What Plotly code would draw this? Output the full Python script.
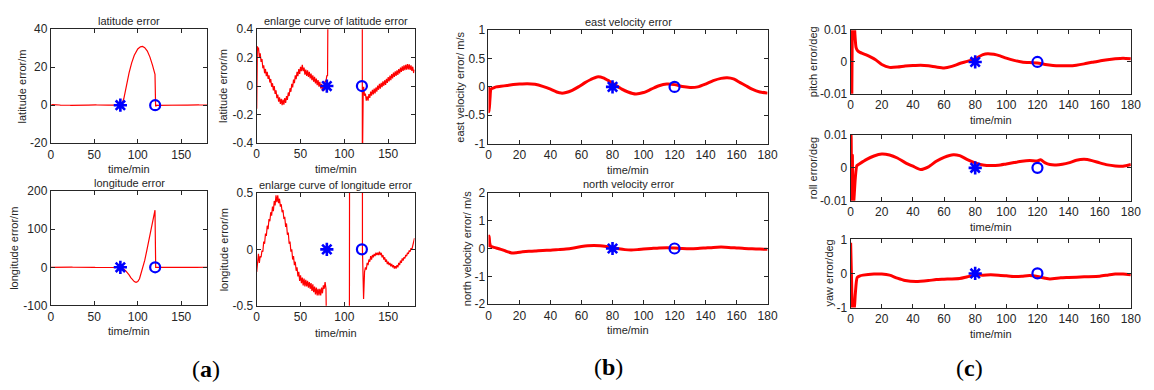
import plotly.graph_objects as go

W, H = 1154, 390

# ---------------- data ----------------
lat_t = [0, 0.8, 1.5, 2, 3, 4, 5, 6, 7, 8, 9, 10, 11, 12, 13, 14, 15, 16, 17, 18, 19, 20,
         21, 22, 23, 24, 25, 26, 27, 28, 29, 30, 31, 32, 33, 34, 35, 36, 37, 38, 39, 40,
         41, 42, 43, 44, 45, 46, 47, 48, 49, 50, 51, 52, 53, 54, 55, 56, 57, 58, 59, 60,
         61, 62, 63, 64, 65, 66, 67, 68, 69, 70, 71, 72, 73, 74, 75, 76, 77, 78, 79, 80,
         80.8, 81.3, 82, 84, 86, 88, 90, 93, 96, 100, 103, 105.5, 108, 111, 114, 117, 119.8,
         120.5, 121.5, 122, 123, 124, 125, 126, 127, 128, 129, 130, 131, 132, 133, 134, 135,
         136, 137, 138, 139, 140, 141, 142, 143, 144, 145, 146, 147, 148, 149, 150, 151, 152,
         153, 154, 155, 156, 157, 158, 159, 160, 161, 162, 163, 164, 165, 166, 167, 168, 169,
         170, 171, 172, 173, 174, 175, 176, 177, 178, 179, 180]
lat_err = [-0.16, 0.28, 0.25,
           0.27, 0.205, 0.23, 0.17, 0.19, 0.125, 0.145, 0.09, 0.12, 0.07, 0.1, 0.05, 0.075,
           0.025, 0.05, -0.005, 0.02, -0.03, 0.0, -0.055, -0.03, -0.085, -0.06, -0.11, -0.08,
           -0.125, -0.09, -0.135, -0.095, -0.13, -0.085, -0.118, -0.07, -0.098, -0.045, -0.07,
           -0.015, -0.04, 0.015, -0.01, 0.045, 0.02, 0.075, 0.048, 0.1, 0.07, 0.12, 0.085,
           0.135, 0.105, 0.15, 0.105, 0.13, 0.08, 0.115, 0.072, 0.11, 0.065, 0.1, 0.054, 0.088,
           0.042, 0.076, 0.03, 0.065, 0.018, 0.052, 0.006, 0.042, -0.004, 0.03, -0.016, 0.015,
           -0.035, -0.003, -0.03, 0.035, 0.03, 0.075,
           0.07, 0.6, 0.9, 3.5, 8.5, 12.8, 17.0, 22.3, 26.3, 29.6, 30.7, 30.9, 30.3, 28.5, 25.3,
           21.0, 16.2,
           -0.6, -0.02,
           -0.005, -0.068, -0.052, -0.103, -0.072, -0.103, -0.057, -0.083, -0.039, -0.068,
           -0.027, -0.058, -0.018, -0.052, -0.01, -0.04, 0.003, -0.026, 0.015, -0.018, 0.023,
           -0.008, 0.033, 0.002, 0.041, 0.008, 0.051, 0.022, 0.063, 0.032, 0.073, 0.042, 0.084,
           0.054, 0.095, 0.064, 0.104, 0.072, 0.11, 0.079, 0.12, 0.089, 0.13, 0.099, 0.138,
           0.106, 0.146, 0.112, 0.15, 0.116, 0.154, 0.118, 0.152, 0.114, 0.146, 0.106, 0.136,
           0.092, 0.115]

lon_t = [0, 1, 2, 3, 4, 5, 6, 7, 8, 9, 10, 11, 12, 13, 14, 15, 16, 17, 18, 19, 20,
         21, 22, 23, 24, 25, 26, 27, 28, 29, 30, 31, 32, 33, 34, 35, 36, 37, 38, 39, 40,
         41, 42, 43, 44, 45, 46, 47, 48, 49, 50, 51, 52, 53, 54, 55, 56, 57, 58, 59, 60,
         61, 62, 63, 64, 65, 66, 67, 68, 69, 70, 71, 72, 73, 74, 75, 76, 77, 78, 79, 79.5, 80,
         81, 82, 84, 86, 88, 90, 92, 94, 96, 98, 100, 102, 104, 106.2, 108, 110, 113, 116, 119.8,
         120.6, 121.9, 123, 124, 125, 126, 127, 128, 129, 130, 131, 132, 133, 134, 135, 136,
         137, 138, 139, 140, 141, 142, 143, 144, 145, 146, 147, 148, 149, 150, 151, 152, 153,
         154, 155, 156, 157, 158, 159, 160, 161, 162, 163, 164, 165, 166, 167, 168, 169, 170,
         171, 172, 173, 174, 175, 176, 177, 178, 179, 180]
lon_err = [-0.2, -0.1, -0.04, -0.12, -0.06, -0.07, -0.01, -0.02, 0.07, 0.05, 0.14, 0.12, 0.21,
           0.18, 0.27, 0.25, 0.33, 0.3, 0.38, 0.34, 0.43, 0.39, 0.48, 0.42, 0.48, 0.41, 0.45,
           0.38, 0.4, 0.33, 0.35, 0.27, 0.29, 0.2, 0.23, 0.13, 0.15, 0.05, 0.07, -0.02, 0.0,
           -0.09, -0.06, -0.14, -0.11, -0.19, -0.16, -0.24, -0.2, -0.28, -0.23, -0.3, -0.25,
           -0.32, -0.26, -0.33, -0.27, -0.33, -0.28, -0.34, -0.29, -0.35, -0.3, -0.37, -0.31,
           -0.38, -0.33, -0.4, -0.34, -0.41, -0.35, -0.41, -0.35, -0.41, -0.34, -0.39, -0.32,
           -0.35, -0.29, -0.35, -0.4, -0.55,
           -1.2, -2.0, -5.0, -9.0, -14.0, -20.0, -27.0, -33.0, -37.5, -39.5, -37.5, -30.0,
           -15.0, 0.0, 18.0, 40.0, 72.0, 105.0, 150.0,
           0.0, -0.44, -0.20,
           -0.16, -0.18, -0.12, -0.14, -0.09, -0.11, -0.06, -0.09, -0.05, -0.07, -0.04, -0.06,
           -0.03, -0.05, -0.03, -0.05, -0.02, -0.05, -0.03, -0.07, -0.05, -0.09, -0.07, -0.11,
           -0.09, -0.13, -0.11, -0.14, -0.12, -0.15, -0.13, -0.16, -0.14, -0.17, -0.15, -0.17,
           -0.14, -0.16, -0.12, -0.14, -0.1, -0.12, -0.08, -0.1, -0.07, -0.08, -0.05, -0.06,
           -0.03, -0.04, -0.01, -0.02, 0.01, 0.0, 0.04, 0.05, 0.1]

ve_t = [0, 0.4, 1.0, 1.6, 3, 5, 8, 12, 16, 20, 25, 30, 35, 40, 44, 47, 50, 54, 58, 62, 66, 70,
        74, 78, 82, 86, 90, 95, 100, 105, 110, 115, 120, 125, 130, 135, 140, 145, 150, 154,
        158, 162, 166, 170, 175, 180]
ve_err = [0.0, -0.44, -0.2, -0.04, -0.02, 0.0, 0.01, 0.025, 0.04, 0.05, 0.057, 0.045, 0.01,
          -0.04, -0.09, -0.11, -0.1, -0.06, 0.0, 0.07, 0.13, 0.175, 0.16, 0.1, 0.03, -0.04,
          -0.09, -0.125, -0.1, -0.04, 0.02, 0.05, 0.04, 0.005, -0.01, 0.0, 0.05, 0.11, 0.15,
          0.16, 0.14, 0.08, 0.02, -0.04, -0.09, -0.11]

vn_t = [0, 0.4, 0.8, 1.5, 3, 5, 8, 11, 15, 18, 22, 26, 30, 35, 40, 45, 50, 55, 60, 64, 68, 72,
        76, 80, 84, 88, 92, 96, 100, 105, 110, 115, 120, 125, 130, 135, 140, 145, 150, 155,
        160, 165, 170, 175, 180]
vn_err = [0.05, 0.45, 0.2, 0.08, 0.05, 0.02, -0.03, -0.09, -0.16, -0.15, -0.12, -0.1, -0.09,
          -0.07, -0.06, -0.04, -0.02, 0.02, 0.07, 0.1, 0.11, 0.1, 0.07, 0.03, -0.01, -0.04,
          -0.05, -0.04, -0.02, 0.0, 0.02, 0.03, 0.02, 0.0, -0.01, 0.0, 0.02, 0.04, 0.05, 0.04,
          0.02, 0.0, -0.01, -0.02, -0.03]

pitch_t = [0, 0.3, 0.7, 1.2, 1.7, 2.2, 2.7, 3.5, 4.5, 6, 8, 10, 13, 16, 20, 25, 30, 35, 40, 45,
           50, 55, 60, 65, 70, 75, 80, 85, 88, 92, 96, 100, 105, 110, 115, 120, 125, 130, 135,
           140, 145, 150, 155, 160, 165, 170, 175, 180]
pitch_err = [-0.012, 0.010, -0.012, 0.010, 0.008, 0.014, 0.009, 0.0045, 0.0035, 0.0030,
             0.0026, 0.0022, 0.0015, 0.0007, -0.0008, -0.0017, -0.0016, -0.0013, -0.0011,
             -0.0010, -0.0012, -0.0016, -0.0019, -0.0014, -0.0005, 0.0002, 0.0010, 0.0023,
             0.0026, 0.0024, 0.0019, 0.0012, 0.0005, 0.0000, -0.0002, -0.0003, -0.0008,
             -0.0011, -0.0012, -0.0012, -0.0010, -0.0006, -0.0001, 0.0003, 0.0007, 0.0010,
             0.0012, 0.0010]

roll_t = [0, 0.3, 0.7, 1.1, 1.5, 2.2, 3, 4, 5, 10, 15, 20, 25, 30, 35, 40, 45, 50, 55, 60, 66,
          70, 75, 80, 85, 90, 95, 100, 105, 110, 115, 120, 122, 125, 128, 132, 136, 140, 145,
          150, 155, 160, 165, 170, 175, 180]
roll_err = [0.0, 0.010, -0.010, 0.004, -0.013, -0.009, -0.003, 0.0007, 0.0010, 0.0025, 0.0036,
            0.0042, 0.0039, 0.0030, 0.0016, 0.0005, -0.0005, 0.0003, 0.0020, 0.0032, 0.0040,
            0.0037, 0.0025, 0.0015, 0.0009, 0.0007, 0.0008, 0.0012, 0.0016, 0.0020, 0.0022,
            0.0021, 0.0025, 0.0015, 0.0010, 0.0009, 0.0011, 0.0015, 0.0023, 0.0026, 0.0022,
            0.0015, 0.0009, 0.0006, 0.0005, 0.0010]

yaw_t = [0, 0.6, 1.2, 2.1, 3, 4.2, 6, 8, 15, 20, 25, 30, 35, 42, 50, 55, 60, 70, 75, 80, 85,
         90, 95, 100, 105, 110, 115, 120, 125, 128, 135, 140, 150, 160, 165, 170, 175, 180]
yaw_err = [0.9, -0.2, -1.04, -1.14, -0.6, -0.12, -0.07, -0.05, -0.02, -0.02, -0.05, -0.14,
           -0.21, -0.24, -0.21, -0.18, -0.17, -0.15, -0.1, -0.05, -0.05, -0.04, -0.05, -0.07,
           -0.09, -0.08, -0.06, -0.09, -0.14, -0.16, -0.13, -0.12, -0.1, -0.08, -0.05, -0.02,
           -0.02, -0.04]

mark_t = [80, 120]
mark_v = [0, 0]

x_ticks_a = [0, 50, 100, 150]
x_ticks_bc = [0, 20, 40, 60, 80, 100, 120, 140, 160, 180]

# ---------------- figure ----------------
RED = "#ff0000"
BLUE = "#0000ff"
TXT = "#262626"
FONT = "Liberation Sans, Arial, sans-serif"

panels = [
    (lat_t, lat_err, 48.3, 206.7, 23, 141.3, [-20, 40], [-20, 0, 20, 40],
     ["-20", "0", "20", "40"], x_ticks_a, 1.2, "latitude error", 14.7,
     "latitude error/m", 19.5, 168),
    (lat_t, lat_err, 256.6, 416.2, 23, 141, [-0.4, 0.4], [-0.4, -0.2, 0, 0.2, 0.4],
     ["-0.4", "-0.2", "0", "0.2", "0.4"], x_ticks_a, 1.2, "enlarge curve of latitude error",
     14.7, "latitude error/m", 222.5, 168),
    (lon_t, lon_err, 48.3, 206.7, 191, 309.5, [-100, 200], [-100, 0, 100, 200],
     ["-100", "0", "100", "200"], x_ticks_a, 1.2, "longitude error", 183,
     "longitude error/m", 11.7, 336),
    (lon_t, lon_err, 256.6, 416.2, 193, 309.8, [-0.5, 0.5], [-0.5, 0, 0.5],
     ["-0.5", "0", "0.5"], x_ticks_a, 1.2, "enlarge curve of longitude error", 185,
     "longitude error/m", 223.5, 338),
    (ve_t, ve_err, 491, 773.3, 24, 141.7, [-1, 1], [-1, -0.5, 0, 0.5, 1],
     ["-1", "-0.5", "0", "0.5", "1"], x_ticks_bc, 3, "east velocity error", 16,
     "east velocity error/ m/s", 462, 169),
    (vn_t, vn_err, 491, 773.3, 192.7, 308.3, [-2, 2], [-2, -1, 0, 1, 2],
     ["-2", "-1", "0", "1", "2"], x_ticks_bc, 3, "north velocity error", 184,
     "north velocity error/ m/s", 469, 335),
    (pitch_t, pitch_err, 857.3, 1140.7, 24, 90, [-0.01, 0.01], [-0.01, 0, 0.01],
     ["-0.01", "0", "0.01"], x_ticks_bc, 3, None, None,
     "pitch error/deg", 819.5, 116.7),
    (roll_t, roll_err, 857.3, 1140.7, 132.7, 201, [-0.01, 0.01], [-0.01, 0, 0.01],
     ["-0.01", "0", "0.01"], x_ticks_bc, 3, None, None,
     "roll error/deg", 819.5, 228.3),
    (yaw_t, yaw_err, 857.3, 1140.7, 241, 311.7, [-1, 1], [-1, 0, 1],
     ["-1", "0", "1"], x_ticks_bc, 3, None, None,
     "yaw error/deg", 835.5, 339),
]

fig = go.Figure()
annotations = []
layout = {}

for i, (t, v, x0, x1, yt, yb, yr, ytv, ytt, xtv, lw, title, title_y,
        ylab, ylab_x, xlab_y) in enumerate(panels, start=1):
    sfx = "" if i == 1 else str(i)
    xa, ya = "x" + sfx, "y" + sfx
    smooth = i >= 5
    fig.add_trace(go.Scatter(
        x=t, y=v, xaxis=xa, yaxis=ya, mode="lines",
        line=dict(color=RED, width=lw, shape="spline" if smooth else "linear",
                  smoothing=0.6 if smooth else None),
        showlegend=False, hoverinfo="skip"))
    fig.add_trace(go.Scatter(
        x=mark_t[:1], y=mark_v[:1], xaxis=xa, yaxis=ya, mode="markers",
        marker=dict(symbol="asterisk-open", size=11, color=BLUE,
                    line=dict(color=BLUE, width=2.6)),
        showlegend=False, hoverinfo="skip", cliponaxis=False))
    fig.add_trace(go.Scatter(
        x=mark_t[1:], y=mark_v[1:], xaxis=xa, yaxis=ya, mode="markers",
        marker=dict(symbol="circle-open", size=10, color=BLUE,
                    line=dict(color=BLUE, width=2.2)),
        showlegend=False, hoverinfo="skip", cliponaxis=False))

    common = dict(showline=True, linecolor=TXT, linewidth=1, mirror="ticks",
                  ticks="inside", ticklen=4, tickcolor=TXT, tickwidth=1,
                  showgrid=False, zeroline=False, ticklabeloverflow="allow",
                  tickfont=dict(family=FONT, size=12, color=TXT))
    layout["xaxis" + sfx] = dict(domain=[x0 / W, x1 / W], anchor=ya, range=[0, 180],
                                 tickvals=xtv, ticktext=[str(k) for k in xtv], **common)
    layout["yaxis" + sfx] = dict(domain=[1 - yb / H, 1 - yt / H], anchor=xa, range=yr,
                                 tickvals=ytv, ticktext=ytt, **common)

    cx = (x0 + x1) / 2 / W
    if title:
        annotations.append(dict(text=title, x=cx, y=1 - title_y / H, xref="paper",
                                yref="paper", showarrow=False, xanchor="center",
                                yanchor="middle", font=dict(family=FONT, size=11, color=TXT)))
    annotations.append(dict(text="time/min", x=cx, y=1 - xlab_y / H, xref="paper",
                            yref="paper", showarrow=False, xanchor="center",
                            yanchor="middle", font=dict(family=FONT, size=11, color=TXT)))
    annotations.append(dict(text=ylab, x=ylab_x / W, y=1 - (yt + yb) / 2 / H, xref="paper",
                            yref="paper", showarrow=False, xanchor="center",
                            yanchor="middle", textangle=-90,
                            font=dict(family=FONT, size=11, color=TXT)))

for lbl, lx, ly in [("a", 205, 375), ("b", 612, 373), ("c", 978, 374)]:
    annotations.append(dict(text="(<b>" + lbl + "</b>)", x=lx / W, y=1 - ly / H,
                            xref="paper", yref="paper", showarrow=False,
                            xanchor="center", yanchor="middle",
                            font=dict(family="Liberation Serif, serif", size=24,
                                      color="#000000")))

fig.update_layout(
    width=W, height=H, margin=dict(l=0, r=0, t=0, b=0),
    paper_bgcolor="white", plot_bgcolor="white",
    annotations=annotations, **layout)

fig.write_html("out.html", config={"displayModeBar": False, "staticPlot": True},
               post_script="document.body.style.margin='0px';")
